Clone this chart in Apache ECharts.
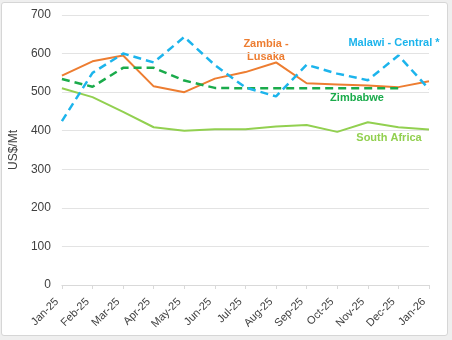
<!DOCTYPE html>
<html><head><meta charset="utf-8">
<script src="https://cdn.jsdelivr.net/npm/echarts@6/dist/echarts.min.js"></script>
<style>
html,body{margin:0;padding:0;background:#efefef;}
#frame{position:absolute;left:1px;top:2px;width:445px;height:332px;background:#fff;border:1px solid #d6d6d6;border-radius:3px;}
#c{position:absolute;left:0;top:0;width:452px;height:340px;}
</style></head>
<body>
<div id="frame"></div>
<div id="c"></div>
<script>
const categories = ['Jan-25','Feb-25','Mar-25','Apr-25','May-25','Jun-25','Jul-25','Aug-25','Sep-25','Oct-25','Nov-25','Dec-25','Jan-26'];
const zambia = [543,580,595,515,500,535,552,577,523,520,517,513,528];
const malawi = [425,550,600,577,643,570,512,489,571,548,531,595,508];
const zimbabwe = [534,514,563,563,530,511,510,510,510,510,510,510,null];
const southAfrica = [510,487,449,409,400,404,404,411,415,397,422,409,403];
const yTicks = [0,100,200,300,400,500,600,700];

const chart = echarts.init(document.getElementById('c'), null, {renderer:'canvas'});
const font = 'Liberation Sans, Arial, sans-serif';
function line(name, data, color, dashed, width){
  return {name, type:'line', data, symbol:'none', smooth:false, connectNulls:false,
    lineStyle:{color, width:width, type: dashed ? [8,5] : 'solid'}, z: dashed?3:2, animation:false};
}
function lbl(text, x, y, color){
  return {type:'text', x, y, style:{text, fill:color, font:'bold 11px '+font, textAlign:'center', textVerticalAlign:'middle', lineHeight:13}};
}
chart.setOption({
  backgroundColor:'transparent',
  animation:false,
  grid:{left:58, right:23, top:15, bottom:55},
  xAxis:{type:'category', data:categories, boundaryGap:false,
    axisLine:{lineStyle:{color:'#d9d9d9'}},
    axisTick:{show:true, alignWithLabel:true, length:4, lineStyle:{color:'#d9d9d9'}},
    axisLabel:{rotate:45, fontSize:11, color:'#404040', fontFamily:font, margin:10, interval:0, padding:[0,7,0,0]}},
  yAxis:{type:'value', min:yTicks[0], max:yTicks[yTicks.length-1], interval:100,
    name:'US$/Mt', nameLocation:'middle', nameGap:40, nameRotate:90,
    nameTextStyle:{fontSize:12, color:'#404040', fontFamily:font},
    axisLine:{show:false}, axisTick:{show:false},
    axisLabel:{fontSize:12, color:'#404040', fontFamily:font, margin:11},
    splitLine:{lineStyle:{color:'#e3e3e3', width:1}}},
  series:[
    line('South Africa', southAfrica, '#92d050', false, 2),
    line('Zambia - Lusaka', zambia, '#ed7d31', false, 2),
    line('Zimbabwe', zimbabwe, '#1aab4b', true, 2.5),
    line('Malawi - Central *', malawi, '#1cb4ec', true, 2.5)
  ],
  graphic:[
    lbl('Zambia -\nLusaka', 266, 50, '#ed7d31'),
    lbl('Malawi - Central *', 394, 43, '#1cb4ec'),
    lbl('Zimbabwe', 357, 98, '#1aab4b'),
    lbl('South Africa', 389, 138, '#92d050')
  ]
});
</script>
</body></html>
